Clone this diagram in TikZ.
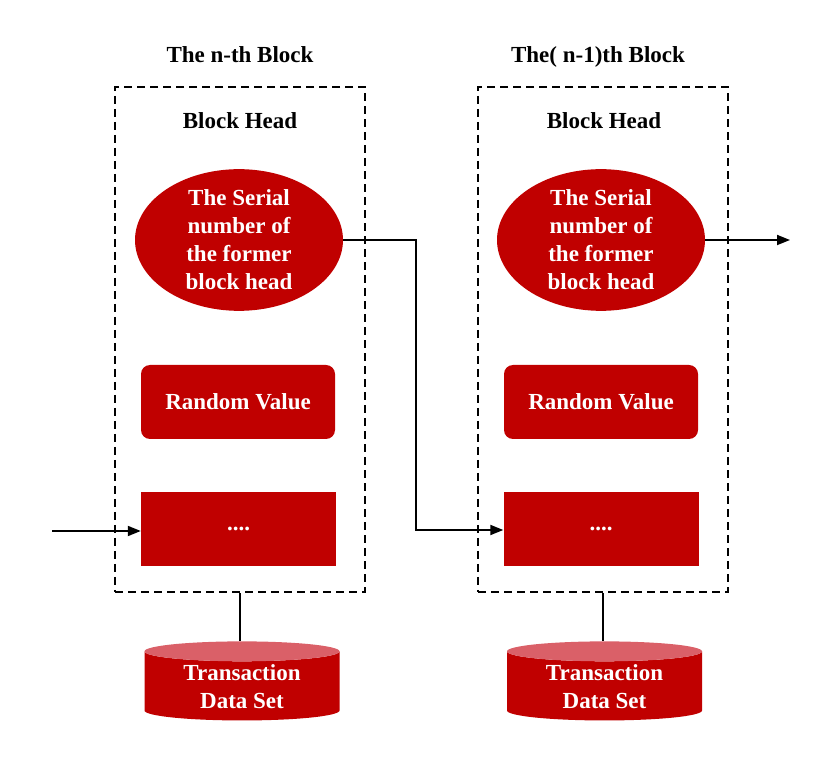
\documentclass[tikz,border=0pt]{standalone}
\usepackage{fontspec}
\setmainfont{Liberation Serif}
\usetikzlibrary{shapes.geometric,arrows.meta}
\definecolor{blockred}{RGB}{192,0,0}
\definecolor{toplight}{RGB}{218,96,104}
\begin{document}
\begin{tikzpicture}[x=1pt,y=-1pt,
  font=\fontsize{23}{28}\selectfont\bfseries,
  blk/.style = {draw,dashed,dash pattern=on 8pt off 5pt,line width=1.8pt,minimum width=250pt,minimum height=505pt,inner sep=0pt},
  title/.style = {anchor=base},
  serial/.style = {ellipse,fill=blockred,text=white,align=center,minimum width=208pt,minimum height=114pt,inner sep=0pt},
  randv/.style = {rounded corners=9pt,fill=blockred,text=white,minimum width=194pt,minimum height=74pt},
  dots/.style = {fill=blockred,text=white,minimum width=195pt,minimum height=74pt},
  dataset/.style = {cylinder,shape border rotate=90,aspect=0.17,cylinder uses custom fill,cylinder body fill=blockred,cylinder end fill=toplight,text=white,minimum width=195pt,inner xsep=0pt,inner ysep=-3.5pt},
  link/.style = {line width=1.8pt,-{Triangle[length=13pt,width=10pt]}}]
\newcommand\datatext{\raisebox{-3pt}[\height][\depth]{\begin{tabular}{@{}c@{}}Transaction\\Data Set\end{tabular}}}
\useasboundingbox (0,0) rectangle (839,775);
% n-th block
\node[title] (t1) at (240,63) {The n-th Block};
\node[blk] (b1) at (240,339.5) {};
\node (h1) at (240,121) {Block Head};
\node[serial] (s1) at (239,240) {The Serial\\number of\\the former\\block head};
\node[randv] (r1) at (238,402) {Random Value};
\node[dots] (d1) at (238.5,529) {....};
\node[dataset] (c1) at (242,686) {\datatext};
% (n-1)th block
\node[title] (t2) at (598,63) {The( n-1)th Block};
\node[blk] (b2) at (603,339.5) {};
\node (h2) at (604,121) {Block Head};
\node[serial] (s2) at (601,240) {The Serial\\number of\\the former\\block head};
\node[randv] (r2) at (601,402) {Random Value};
\node[dots] (d2) at (601,529) {....};
\node[dataset] (c2) at (604.5,686) {\datatext};
% links
\coordinate (in1) at (52,531);
\coordinate (out2) at (790,240);
\draw[link] (in1) -- (d1.west |- in1);
\draw[link] (s1.east) -| (416,530) -- (d2.west |- 0,530);
\draw[link] (s2.east) -- (out2);
\draw[line width=1.8pt] (b1.south) -- (b1.south |- c1.north);
\draw[line width=1.8pt] (b2.south) -- (b2.south |- c2.north);
\end{tikzpicture}
\end{document}
